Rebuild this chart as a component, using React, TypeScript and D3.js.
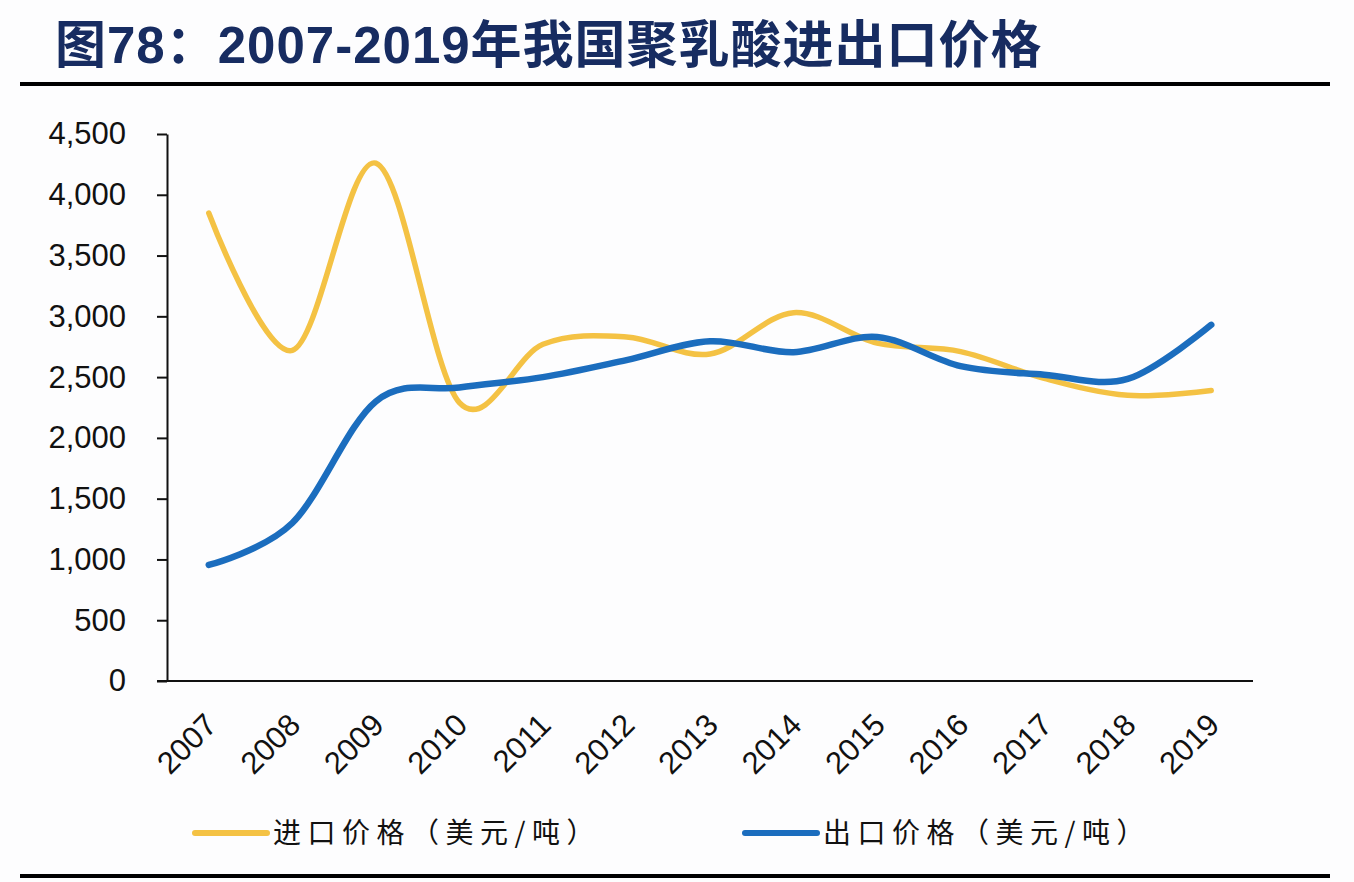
import { axisLeft, curveCatmullRom, line, scaleBand, scaleLinear, select } from 'd3'
import { useEffect, useRef } from 'react'

const years = ['2007', '2008', '2009', '2010', '2011', '2012', '2013', '2014', '2015', '2016', '2017', '2018', '2019']
const importPrice = [3850, 2720, 4260, 2290, 2770, 2830, 2690, 3030, 2780, 2710, 2490, 2350, 2390]
const exportPrice = [955, 1300, 2300, 2415, 2500, 2640, 2795, 2705, 2830, 2590, 2520, 2485, 2930]
const yTicks = [0, 500, 1000, 1500, 2000, 2500, 3000, 3500, 4000, 4500]

const title = '图78：2007-2019年我国聚乳酸进出口价格'
const seriesNames = ['进口价格（美元/吨）', '出口价格（美元/吨）']
const colors = ['#F4C244', '#1B6DBE']

const width = 1354
const height = 882
const margin = { top: 134, right: 101, bottom: 201, left: 167 }

export default function App() {
    const ref = useRef(null)

    useEffect(() => {
        const svg = select(ref.current)
        svg.selectAll('*').remove()

        svg.append('rect')
            .attr('width', width)
            .attr('height', height)
            .attr('fill', '#fdfdfe')

        // title and the two black rules
        svg.append('text')
            .attr('x', 55)
            .attr('y', 63)
            .attr('font-family', '"Liberation Sans", "Noto Sans CJK SC", sans-serif')
            .attr('font-weight', 'bold')
            .attr('font-size', 51)
            .attr('letter-spacing', 1)
            .attr('fill', '#172c61')
            .text(title)

        svg.append('line')
            .attr('x1', 20).attr('x2', 1330)
            .attr('y1', 84).attr('y2', 84)
            .attr('stroke', '#000').attr('stroke-width', 4)

        svg.append('line')
            .attr('x1', 20).attr('x2', 1330)
            .attr('y1', 876).attr('y2', 876)
            .attr('stroke', '#000').attr('stroke-width', 4)

        const x = scaleBand()
            .domain(years)
            .range([margin.left, width - margin.right])

        const y = scaleLinear()
            .domain([0, 4500])
            .range([height - margin.bottom, margin.top])

        const cx = (d: string) => x(d) + x.bandwidth() / 2

        // y axis
        svg.append('g')
            .attr('transform', `translate(${margin.left},0)`)
            .call(axisLeft(y).tickValues(yTicks).tickSize(10).tickSizeOuter(0).tickPadding(31))
            .call(g => g.select('.domain').attr('stroke', '#111').attr('stroke-width', 2))
            .call(g => g.selectAll('.tick line').attr('stroke', '#111').attr('stroke-width', 2))
            .call(g => g.selectAll('.tick text')
                .attr('font-family', '"Liberation Sans", Arial, sans-serif')
                .attr('font-size', 31)
                .attr('fill', '#111'))

        // x axis line
        svg.append('line')
            .attr('x1', margin.left - 10).attr('x2', width - margin.right)
            .attr('y1', y(0)).attr('y2', y(0))
            .attr('stroke', '#111').attr('stroke-width', 2)

        svg.append('g')
            .selectAll('text')
            .data(years)
            .join('text')
            .attr('transform', d => `translate(${cx(d) + 2},719) rotate(-45)`)
            .attr('text-anchor', 'end')
            .attr('dy', '0.36em')
            .attr('font-family', '"Liberation Sans", Arial, sans-serif')
            .attr('font-size', 31)
            .attr('fill', '#111')
            .text(d => d)

        const priceLine = line<number>()
            .curve(curveCatmullRom.alpha(0))
            .x((d, i) => cx(years[i]))
            .y(d => y(d))

        svg.append('path')
            .datum(importPrice)
            .attr('fill', 'none')
            .attr('stroke', colors[0])
            .attr('stroke-width', 5.5)
            .attr('stroke-linecap', 'round')
            .attr('d', priceLine)

        svg.append('path')
            .datum(exportPrice)
            .attr('fill', 'none')
            .attr('stroke', colors[1])
            .attr('stroke-width', 6.5)
            .attr('stroke-linecap', 'round')
            .attr('d', priceLine)

        // legend
        const legendX = [195, 745]
        const legend = svg.append('g')
            .selectAll('g')
            .data(seriesNames)
            .join('g')
            .attr('transform', (d, i) => `translate(${legendX[i]},833)`)

        legend.append('line')
            .attr('x1', 0).attr('x2', 72)
            .attr('stroke', (d, i) => colors[i])
            .attr('stroke-width', 6)
            .attr('stroke-linecap', 'round')

        legend.append('text')
            .attr('x', 78)
            .attr('dy', '0.36em')
            .attr('font-family', '"Noto Sans CJK SC", sans-serif')
            .attr('font-size', 28)
            .attr('letter-spacing', 6.5)
            .attr('fill', '#111')
            .text(d => d)
    }, [])

    return (
        <svg ref={ref} width={width} height={height} style={{ position: 'absolute', left: 0, top: 0 }} />
    )
}
